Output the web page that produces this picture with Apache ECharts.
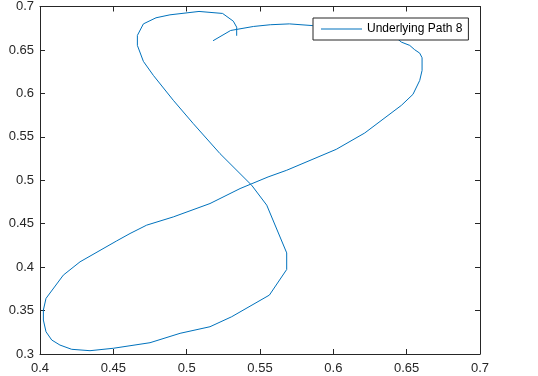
<!DOCTYPE html>
<html>
<head>
<meta charset="utf-8">
<script src="https://cdn.jsdelivr.net/npm/echarts@6/dist/echarts.min.js"></script>
<style>
  html, body { margin: 0; padding: 0; background: #fff; }
  #chart { width: 538px; height: 376px; }
</style>
</head>
<body>
<div id="chart"></div>
<script>
// path points, in drawing order
const pathX = [0.518, 0.530, 0.5455, 0.557, 0.570, 0.586, 0.620, 0.640, 0.6464, 0.6521, 0.6555, 0.6589,
  0.6605, 0.6605, 0.6589, 0.6543, 0.6464, 0.6214, 0.602, 0.5682, 0.5555, 0.5364, 0.5159, 0.4909,
  0.4727, 0.4614, 0.4523, 0.4273, 0.4159, 0.4041, 0.4023, 0.4023, 0.4041, 0.408, 0.4136, 0.4216,
  0.4341, 0.45, 0.475, 0.4955, 0.5159, 0.5307, 0.5564, 0.5682, 0.5682, 0.5546, 0.5443, 0.5227,
  0.5045, 0.4909, 0.4773, 0.4705, 0.4664, 0.4664, 0.4705, 0.4791, 0.4886, 0.5084, 0.5245, 0.5318,
  0.5341, 0.5341];
const pathY = [0.6606, 0.6724, 0.677, 0.679, 0.680, 0.678, 0.676, 0.668, 0.659, 0.6552, 0.6502, 0.6463,
  0.641, 0.6264, 0.6149, 0.5989, 0.5862, 0.5544, 0.5356, 0.5115, 0.5038, 0.4904, 0.4732, 0.4578,
  0.4483, 0.4387, 0.4302, 0.4061, 0.3908, 0.364, 0.3506, 0.3391, 0.3256, 0.3161, 0.3103, 0.3054,
  0.3038, 0.3066, 0.313, 0.3238, 0.3314, 0.3429, 0.3678, 0.3973, 0.4164, 0.4713, 0.4943, 0.5307,
  0.5652, 0.592, 0.6207, 0.6368, 0.6552, 0.6667, 0.680, 0.687, 0.6904, 0.6943, 0.692, 0.6831,
  0.6762, 0.6663];
const seriesName = 'Underlying Path 8';
const xTicks = [0.4, 0.7, 0.05];
const yTicks = [0.3, 0.7, 0.05];

const axisColor = '#262626';
const lineColor = '#0072BD';
const fontFamily = "'Liberation Sans', Arial, sans-serif";
const fmt = v => String(+v.toFixed(2));

const pathData = pathX.map((x, i) => [x, pathY[i]]);

const chart = echarts.init(document.getElementById('chart'), null, { renderer: 'canvas' });

const makeAxis = (ticks, position, showLabel, margin) => ({
  type: 'value',
  position: position,
  min: ticks[0],
  max: ticks[1],
  interval: ticks[2],
  axisLine: { show: true, onZero: false, lineStyle: { color: axisColor, width: 1 } },
  axisTick: { show: true, inside: true, length: 5, lineStyle: { color: axisColor } },
  splitLine: { show: false },
  axisLabel: {
    show: showLabel,
    margin: margin,
    color: axisColor,
    fontFamily: fontFamily,
    fontSize: 13,
    formatter: fmt
  }
});

const option = {
  animation: false,
  backgroundColor: '#fff',
  grid: { left: 40, right: 58, top: 6, bottom: 22 },
  xAxis: [
    makeAxis(xTicks, 'bottom', true, 8),
    makeAxis(xTicks, 'top', false, 8)
  ],
  yAxis: [
    makeAxis(yTicks, 'left', true, 6),
    makeAxis(yTicks, 'right', false, 6)
  ],
  legend: {
    left: 313,
    top: 18,
    padding: [5, 6, 5, 8],
    itemWidth: 41,
    itemHeight: 14,
    backgroundColor: '#fff',
    borderColor: axisColor,
    borderWidth: 1,
    borderRadius: 0,
    textStyle: { color: '#000', fontFamily: fontFamily, fontSize: 12 },
    data: [{ name: seriesName, icon: 'path://M0,0 L41,0 L41,1 L0,1 Z' }]
  },
  series: [{
    name: seriesName,
    type: 'line',
    data: pathData,
    symbol: 'none',
    smooth: false,
    lineStyle: { color: lineColor, width: 1 },
    itemStyle: { color: lineColor }
  }]
};

chart.setOption(option);
</script>
</body>
</html>
